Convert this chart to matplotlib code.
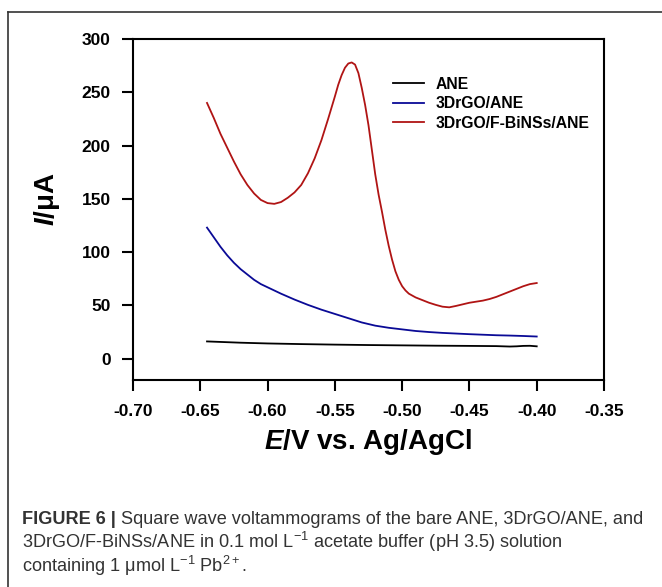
import numpy as np
import matplotlib
matplotlib.use("Agg")
import matplotlib.pyplot as plt
from matplotlib.lines import Line2D

plt.rcParams['font.family'] = ['Liberation Sans', 'DejaVu Sans']
plt.rcParams['mathtext.fontset'] = 'custom'
plt.rcParams['mathtext.rm'] = 'Liberation Sans'
plt.rcParams['mathtext.it'] = 'Liberation Sans:italic'
plt.rcParams['mathtext.bf'] = 'Liberation Sans:bold'
plt.rcParams['mathtext.bfit'] = 'Liberation Sans:italic:bold'

# ---------------------------
# Data
# ---------------------------
labels = ["ANE", "3DrGO/ANE", "3DrGO/F-BiNSs/ANE"]
colors = ["#000000", "#0a0a96", "#b01414"]

e_ane = [-0.645, -0.62, -0.60, -0.575, -0.55, -0.525, -0.50, -0.475, -0.45,
         -0.43, -0.42, -0.415, -0.41, -0.405, -0.40]
i_ane = [16.2, 15.0, 14.3, 13.7, 13.2, 12.8, 12.5, 12.2, 12.0,
         11.8, 11.4, 11.6, 12.0, 12.1, 11.6]

e_rgo = [-0.645, -0.64, -0.635, -0.63, -0.625, -0.62, -0.615, -0.61, -0.605,
         -0.60, -0.59, -0.58, -0.57, -0.56, -0.55, -0.54, -0.53, -0.52,
         -0.51, -0.50, -0.49, -0.48, -0.47, -0.46, -0.45, -0.44, -0.43,
         -0.42, -0.41, -0.40]
i_rgo = [123, 114, 105, 97, 90, 84, 79, 74, 70,
         67, 61, 55.5, 50.5, 46, 42, 38, 34, 31,
         29, 27.5, 26, 25, 24.2, 23.6, 23, 22.5, 22,
         21.7, 21.3, 20.8]

e_bins = [-0.645, -0.64, -0.635, -0.63, -0.625, -0.62, -0.615, -0.61, -0.605,
          -0.60, -0.595, -0.59, -0.585, -0.58, -0.575, -0.57, -0.565, -0.56,
          -0.555, -0.55, -0.5475, -0.545, -0.5425, -0.54, -0.5375, -0.535,
          -0.5325, -0.53, -0.5275, -0.525, -0.5225, -0.52, -0.5175,
          -0.515, -0.5125, -0.51, -0.5075, -0.505, -0.5025, -0.50, -0.4975,
          -0.495, -0.49, -0.485, -0.48, -0.475,
          -0.47, -0.465, -0.46, -0.455, -0.45, -0.445, -0.44, -0.435, -0.43,
          -0.425, -0.42, -0.415, -0.41, -0.405, -0.40]
i_bins = [240, 226, 211, 198, 185, 173, 163, 155, 149,
          146, 145.3, 147, 151, 156, 163, 174, 188, 205,
          225, 246, 257, 266, 273, 277, 278, 276,
          268, 254, 238, 219, 196, 173, 154,
          138, 121, 106, 93, 82, 74, 68, 64,
          61, 57.5, 55, 52.5, 50.5,
          48.8, 48.2, 49.5, 51, 52.5, 53.5, 54.5, 56, 58,
          60.5, 63, 65.5, 68, 70, 71]

series = [(e_ane, i_ane), (e_rgo, i_rgo), (e_bins, i_bins)]

x_ticks = [-0.70, -0.65, -0.60, -0.55, -0.50, -0.45, -0.40, -0.35]
y_ticks = [0, 50, 100, 150, 200, 250, 300]

caption_bold = "FIGURE 6 |"
caption_lines = [" Square wave voltammograms of the bare ANE, 3DrGO/ANE, and",
                 "3DrGO/F-BiNSs/ANE in 0.1 mol L$^{-1}$ acetate buffer (pH 3.5) solution",
                 "containing 1 \u03bcmol L$^{-1}$ Pb$^{2+}$."]

# ---------------------------
# Figure
# ---------------------------
fig = plt.figure(figsize=(6.62, 5.87), dpi=100)
ax = fig.add_axes([133 / 662, 1 - 380 / 587, 471 / 662, 341 / 587])

for (e, i), lab, c in zip(series, labels, colors):
    ax.plot(e, i, color=c, lw=1.3, label=lab)

ax.set_xlim(-0.70, -0.35)
ax.set_ylim(-20, 300)
ax.set_xticks(x_ticks)
ax.set_xticklabels([f"{v:.2f}" for v in x_ticks])
ax.set_yticks(y_ticks)
for s in ax.spines.values():
    s.set_linewidth(1.5)
ax.tick_params(direction="out", length=8, width=1.5, labelsize=12.5, pad=8)
ax.tick_params(axis="x", pad=9)
for t in ax.get_xticklabels() + ax.get_yticklabels():
    t.set_fontweight("bold")

ax.set_xlabel(r"$\mathbfit{E}$/V vs. Ag/AgCl", fontsize=20, fontweight="bold")
ax.xaxis.set_label_coords(0.5, -0.138)
ax.set_ylabel(r"$\mathbfit{I}$/μA", fontsize=20, fontweight="bold")
ax.yaxis.set_label_coords(-0.15, 0.53)

ax.legend(loc="upper left", bbox_to_anchor=(0.552, 0.89), frameon=False,
          prop={"weight": "bold", "size": 11.3}, handlelength=2.0,
          handletextpad=0.7, labelspacing=0.3, borderpad=0, borderaxespad=0)

# outer frame (cropped at right and bottom)
fig.add_artist(Line2D([8 / 662, 1.0], [1 - 12 / 587, 1 - 12 / 587],
                      color="#333333", lw=1.2, transform=fig.transFigure))
fig.add_artist(Line2D([8 / 662, 8 / 662], [0.0, 1 - 12 / 587],
                      color="#333333", lw=1.2, transform=fig.transFigure))

# caption
cap_kw = dict(fontsize=13.1, color="#333333", va="baseline")
cap_y = [524, 548, 572]
tb = fig.text(22 / 662, 1 - cap_y[0] / 587, caption_bold, fontweight="bold", **cap_kw)
fig.canvas.draw()
x_end = tb.get_window_extent().x1 / fig.bbox.width
fig.text(x_end, 1 - cap_y[0] / 587, caption_lines[0], **cap_kw)
for line, y in zip(caption_lines[1:], cap_y[1:]):
    fig.text(22 / 662, 1 - y / 587, line, **cap_kw)

fig.savefig("out.png", dpi=100)
